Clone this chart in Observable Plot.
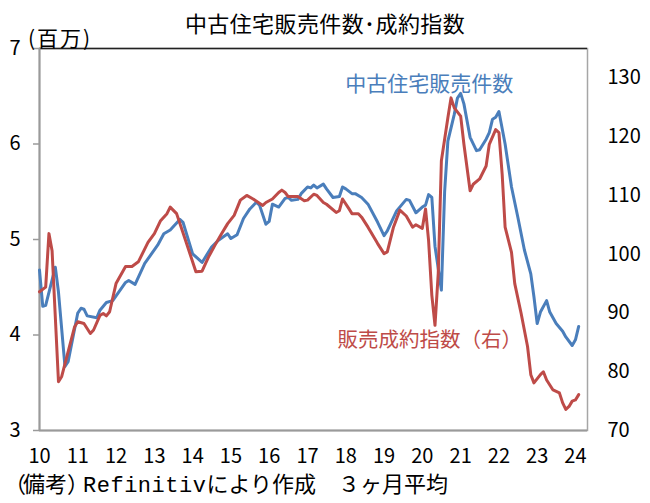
<!DOCTYPE html>
<html>
<head>
<meta charset="utf-8">
<script src="https://cdn.jsdelivr.net/npm/d3@7"></script>
<script src="https://cdn.jsdelivr.net/npm/@observablehq/plot@0.6"></script>
<style>
  body { margin: 0; background: #fff; }
  #wrap { position: relative; width: 650px; height: 503px; font-family: "Noto Sans CJK JP", "Noto Sans", sans-serif; color: #000; overflow: hidden; }
  #title { position: absolute; top: 10px; left: 0; width: 650px; text-align: center; font-size: 22px; line-height: 24px; letter-spacing: 0.4px; }
  #unit { position: absolute; top: 26px; left: 28px; font-size: 21px; line-height: 22px; letter-spacing: 2px; }
  #chart { position: absolute; top: 0; left: 0; }
  #caption { position: absolute; top: 471px; left: 4px; font-size: 22px; line-height: 22px; white-space: pre; }
  #caption .mono { font-family: "Liberation Mono", "DejaVu Sans Mono", monospace; letter-spacing: 0.5px; }
  #caption .po { letter-spacing: -3px; }
  #caption .pc { letter-spacing: -6px; }
</style>
</head>
<body>
<div id="wrap">
  <div id="chart"></div>
  <div id="title">中古住宅販売件数･成約指数</div>
  <div id="unit">(百万)</div>
  <div id="caption"><span class="po">（</span>備考<span class="pc">）</span><span class="mono">Refinitiv</span>により作成　３ヶ月平均</div>
</div>
<script>
// Existing home sales (millions, left axis), 3-month average
const salesDates = ["2010-01","2010-02","2010-03","2010-06","2010-07","2010-09","2010-10","2011-01","2011-02","2011-03","2011-04","2011-07","2011-08","2011-10","2011-12","2012-04","2012-05","2012-07","2012-10","2013-02","2013-04","2013-06","2013-09","2013-10","2014-01","2014-04","2014-07","2014-09","2014-12","2015-01","2015-03","2015-05","2015-07","2015-09","2015-10","2015-12","2016-01","2016-02","2016-04","2016-06","2016-07","2016-08","2016-10","2016-11","2017-01","2017-02","2017-03","2017-04","2017-06","2017-07","2017-09","2017-11","2017-12","2018-01","2018-03","2018-04","2018-06","2018-08","2018-11","2019-01","2019-02","2019-05","2019-08","2019-09","2019-11","2020-01","2020-02","2020-03","2020-04","2020-05","2020-07","2020-08","2020-09","2020-11","2020-12","2021-01","2021-02","2021-04","2021-06","2021-07","2021-09","2021-10","2021-11","2021-12","2022-01","2022-03","2022-05","2022-07","2022-09","2022-11","2022-12","2023-01","2023-02","2023-04","2023-05","2023-07","2023-09","2023-10","2023-12","2024-01","2024-02"];
const salesValues = [4.68,4.30,4.31,4.71,4.45,3.67,3.72,4.23,4.28,4.27,4.20,4.18,4.26,4.34,4.36,4.55,4.57,4.53,4.75,4.94,5.06,5.10,5.21,5.18,4.85,4.76,4.92,4.99,5.06,5.01,5.05,5.22,5.32,5.39,5.36,5.16,5.19,5.37,5.34,5.43,5.44,5.41,5.42,5.48,5.55,5.54,5.57,5.54,5.58,5.53,5.44,5.45,5.55,5.53,5.48,5.48,5.44,5.37,5.18,5.04,5.09,5.30,5.42,5.41,5.28,5.34,5.36,5.47,5.44,4.93,4.47,5.50,6.03,6.31,6.48,6.53,6.42,6.07,5.93,5.94,6.05,6.12,6.26,6.28,6.34,6.00,5.55,5.23,4.89,4.64,4.40,4.12,4.24,4.36,4.24,4.12,4.04,3.98,3.89,3.95,4.09];

// Pending home sales index (right axis), 3-month average
const indexDates = ["2010-01","2010-03","2010-04","2010-05","2010-07","2010-08","2010-12","2011-01","2011-03","2011-05","2011-06","2011-08","2011-09","2011-10","2011-11","2012-01","2012-04","2012-06","2012-08","2012-11","2013-01","2013-03","2013-05","2013-06","2013-08","2013-11","2014-02","2014-04","2014-06","2014-08","2014-10","2014-12","2015-02","2015-04","2015-06","2015-08","2015-11","2015-12","2016-02","2016-04","2016-05","2016-06","2016-07","2016-10","2016-12","2017-01","2017-03","2017-04","2017-06","2017-07","2017-10","2017-11","2017-12","2018-02","2018-03","2018-05","2018-06","2018-08","2018-11","2019-01","2019-02","2019-04","2019-06","2019-08","2019-10","2019-11","2020-01","2020-02","2020-03","2020-04","2020-05","2020-06","2020-07","2020-09","2020-10","2020-11","2021-01","2021-02","2021-04","2021-05","2021-07","2021-09","2021-10","2021-12","2022-01","2022-02","2022-03","2022-05","2022-06","2022-08","2022-10","2022-11","2022-12","2023-02","2023-03","2023-04","2023-06","2023-08","2023-09","2023-10","2023-11","2023-12","2024-01","2024-02"];
const indexValues = [93.6,94.4,103.5,100.6,78.3,79.2,87.6,88.5,88.2,86.5,87.1,89.6,89.9,89.5,90.2,95.0,97.9,97.9,98.7,102.0,103.5,105.7,106.9,108.0,106.9,102.0,97.0,97.1,99.5,101.5,103.4,105.2,106.6,109.2,110.0,109.4,108.3,108.8,109.4,110.5,110.9,110.5,109.8,109.8,109.1,109.2,110.2,110.0,108.8,108.5,107.1,107.4,109.4,107.7,106.9,106.9,106.3,104.6,101.8,100.1,100.4,104.6,107.5,106.5,104.6,105.0,104.4,107.7,102.3,93.0,87.9,96.7,115.9,123.2,126.6,124.9,123.5,118.7,110.8,111.9,112.8,115.0,118.7,121.2,120.7,113.6,104.6,100.3,95.0,89.9,84.3,79.5,78.1,79.5,80.0,78.6,76.9,76.4,74.7,73.6,74.1,75.0,75.2,76.1];

// Axis ticks
const leftTicks = [3, 4, 5, 6, 7];
const rightTicks = [70, 80, 90, 100, 110, 120, 130];
const yearTicks = ["2010","2011","2012","2013","2014","2015","2016","2017","2018","2019","2020","2021","2022","2023","2024"];

// Series labels
const labelTexts = ["中古住宅販売件数", "販売成約指数（右）"];
const labelDates = ["2017-12-28", "2017-10-13"];
const labelValues = [6.63, 85.4];
const labelAxis = ["left", "right"];

const BLUE = "#4A7EBB";
const RED = "#BE4B48";

const parseM = d3.utcParse("%Y-%m");
const parseD = d3.utcParse("%Y-%m-%d");
const parseY = d3.utcParse("%Y");

// right axis [70,135] mapped onto left axis [3,7]
const R0 = 70, R1 = 135, L0 = 3, L1 = 7;
const toLeft = v => L0 + (v - R0) * (L1 - L0) / (R1 - R0);
const toRight = v => R0 + (v - L0) * (R1 - R0) / (L1 - L0);

const sales = salesDates.map((d, i) => ({date: parseM(d), value: salesValues[i]}));
const pending = indexDates.map((d, i) => ({date: parseM(d), value: toLeft(indexValues[i])}));
const labels = labelTexts.map((t, i) => ({
  text: t,
  date: parseD(labelDates[i]),
  value: labelAxis[i] === "right" ? toLeft(labelValues[i]) : labelValues[i],
  color: labelAxis[i] === "right" ? RED : BLUE,
  spacing: labelAxis[i] === "right" ? "0px" : "1px"
}));

const xDomain = [parseM("2010-01"), parseD("2024-04-25")];

const chart = Plot.plot({
  width: 650,
  height: 503,
  marginTop: 48,
  marginBottom: 73,
  marginLeft: 39,
  marginRight: 63,
  style: {fontFamily: "'Noto Sans CJK JP', 'Noto Sans', sans-serif", fontSize: "20px", color: "#000", background: "transparent", overflow: "visible"},
  x: {type: "utc", domain: xDomain},
  y: {domain: [L0, L1]},
  marks: [
    Plot.frame({stroke: "#a6a6a6", strokeWidth: 1.5}),
    Plot.ruleY([L1], {stroke: "#222", strokeWidth: 1.3}),
    Plot.ruleY([L0], {stroke: "#9a9a9a", strokeWidth: 2}),
    Plot.ruleX([xDomain[0]], {stroke: "#9a9a9a", strokeWidth: 2}),
    Plot.axisX(yearTicks.map(parseY), {anchor: "bottom", tickSize: 0, tickPadding: 18, tickFormat: d3.utcFormat("%y"), label: null, fill: "#000"}),
    Plot.axisY(leftTicks, {anchor: "left", tickSize: 6, tickPadding: 13, stroke: "#9a9a9a", strokeWidth: 1.5, fill: "#000", label: null, tickFormat: d => String(d)}),
    Plot.axisY(rightTicks.map(toLeft), {anchor: "right", tickSize: 0, tickPadding: 20, tickFormat: d => String(Math.round(toRight(d))), fill: "#000", label: null}),
    Plot.line(sales, {x: "date", y: "value", stroke: BLUE, strokeWidth: 3, strokeLinejoin: "round", strokeLinecap: "round"}),
    Plot.line(pending, {x: "date", y: "value", stroke: RED, strokeWidth: 3, strokeLinejoin: "round", strokeLinecap: "round"}),
    Plot.text(labels.filter(d => d.spacing === "1px"), {x: "date", y: "value", text: "text", fill: "color", textAnchor: "start", fontSize: 21, lineAnchor: "middle", style: "letter-spacing:1px"}),
    Plot.text(labels.filter(d => d.spacing === "0px"), {x: "date", y: "value", text: "text", fill: "color", textAnchor: "start", fontSize: 20.5, lineAnchor: "middle"})
  ]
});
document.getElementById("chart").appendChild(chart);
</script>
</body>
</html>
